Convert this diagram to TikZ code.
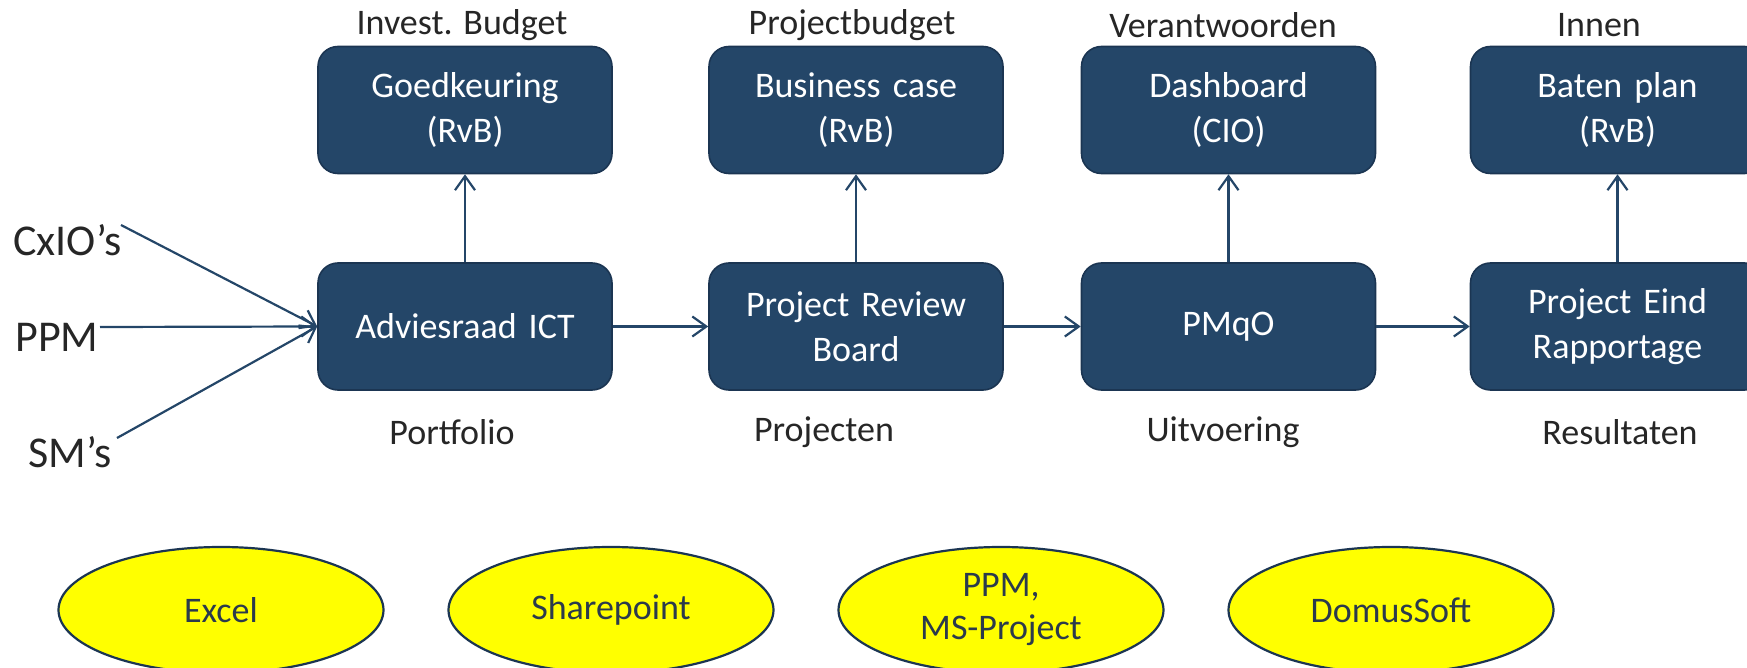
\documentclass[tikz,border=0pt]{standalone}
\usepackage{fontspec}
\setmainfont{Carlito}
\usetikzlibrary{shapes.geometric,arrows.meta}
\definecolor{boxblue}{HTML}{244668}
\definecolor{boxedge}{HTML}{1B3552}
\definecolor{linkblue}{HTML}{244668}
\definecolor{labelgray}{HTML}{262626}
\definecolor{elltext}{HTML}{2B3A4C}
\definecolor{toolyellow}{HTML}{FFFF00}
\begin{document}
\begin{tikzpicture}[x=0.5pt,y=-0.5pt,
  stagebox/.style={draw=boxedge,line width=0.8pt,fill=boxblue,rounded corners=10pt,
    minimum width=147pt,minimum height=63.5pt,text width=140pt,align=center,
    text=white,font=\fontsize{18}{22.5}\selectfont,inner sep=0pt},
  toolell/.style={ellipse,draw=boxedge,line width=1.1pt,fill=toolyellow,
    minimum width=162.5pt,minimum height=63pt,align=center,
    text=elltext,font=\fontsize{18}{21.5}\selectfont,inner sep=0pt},
  toplabel/.style={text=labelgray,font=\fontsize{18}{22}\selectfont,inner sep=0pt},
  sidelabel/.style={text=labelgray,font=\fontsize{22}{26}\selectfont,inner sep=0pt,anchor=west},
  link/.style={draw=linkblue,line width=1.1pt,-{Straight Barb[length=7pt,width=10pt,line width=1.1pt]}}
]
\useasboundingbox (0,0) rectangle (1747,668);

% bottom row
\node[stagebox] (advies) at (465,326.5) {Adviesraad ICT};
\node[stagebox] (prb) at (856,326.5) {Project Review\\Board};
\node[stagebox] (pmqo) at (1228.5,326.5) {PMqO};
\node[stagebox] (eind) at (1617.5,326.5) {Project Eind\\Rapportage};

% top row
\node[stagebox] (goed) at (465,110) {Goedkeuring\\(RvB)};
\node[stagebox] (bc) at (856,110) {Business case\\(RvB)};
\node[stagebox] (dash) at (1228.5,110) {Dashboard\\(CIO)};
\node[stagebox] (baten) at (1617.5,110) {Baten plan\\(RvB)};

% labels above
\node[toplabel] (l1) at (462,25) {Invest. Budget};
\node[toplabel] (l2) at (852,25) {Projectbudget};
\node[toplabel] (l3) at (1223,25) {Verantwoorden};
\node[toplabel] (l4) at (1599,25) {Innen};

% labels below
\node[toplabel] (b1) at (452,432) {Portfolio};
\node[toplabel] (b2) at (824,432) {Projecten};
\node[toplabel] (b3) at (1223,432) {Uitvoering};
\node[toplabel] (b4) at (1620,432) {Resultaten};

% side labels
\node[sidelabel] (cxio) at (13,240) {CxIO’s};
\node[sidelabel] (ppm) at (15,337) {PPM};
\node[sidelabel] (sm) at (28,452) {SM’s};
\coordinate (cxioend) at (121,225);
\coordinate (ppmend) at (100,327);
\coordinate (smend) at (117,438);

% connectors
\draw[link] (cxioend) -- (advies.west);
\draw[link] (ppmend) -- (advies.west);
\draw[link] (smend) -- (advies.west);
\draw[link] (advies) -- (prb);
\draw[link] (prb) -- (pmqo);
\draw[link] (pmqo) -- (eind);
\draw[link] (advies) -- (goed);
\draw[link] (prb) -- (bc);
\draw[link] (pmqo) -- (dash);
\draw[link] (eind) -- (baten);

% tools
\node[toolell] (excel) at (221,610) {Excel};
\node[toolell] (sharep) at (611,610) {Sharepoint};
\node[toolell] (msproj) at (1001,610) {PPM,\\MS-Project};
\node[toolell] (domus) at (1391,610) {DomusSoft};
\end{tikzpicture}
\end{document}
